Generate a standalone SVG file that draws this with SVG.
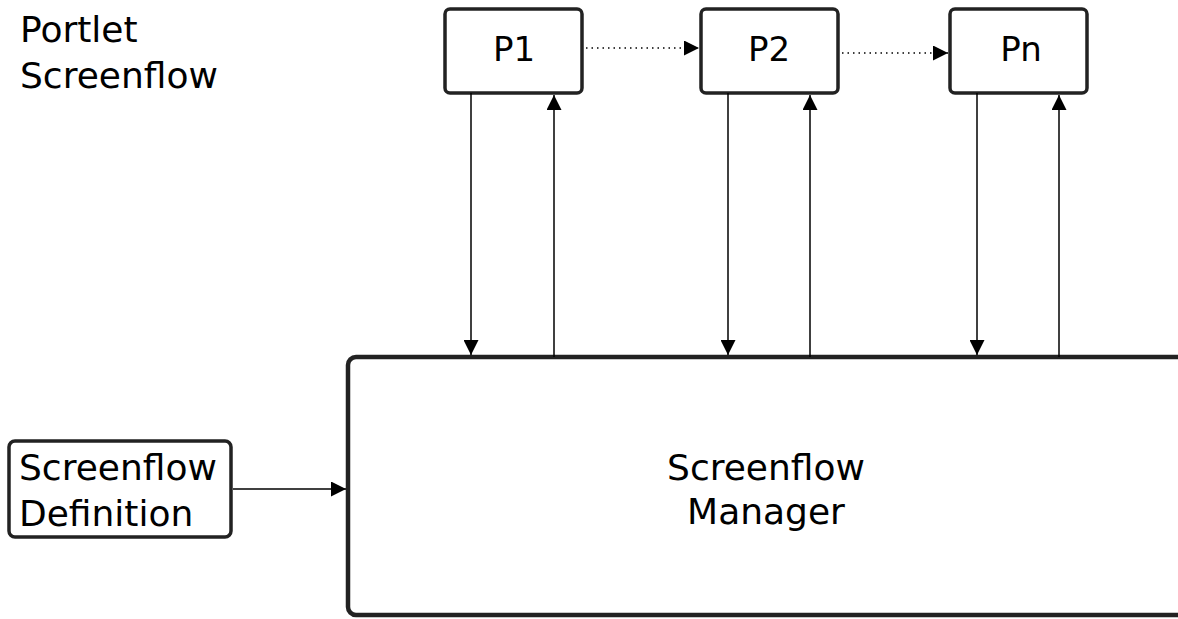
<svg xmlns="http://www.w3.org/2000/svg" width="1178" height="619" viewBox="0 0 1178 619">
  <style>
    .box { fill: #ffffff; stroke: #222222; stroke-width: 3.5; }
    .big { fill: #ffffff; stroke: #222222; stroke-width: 4.5; }
    .lbl { font-family: "DejaVu Sans", sans-serif; font-size: 36px; fill: #000000; }
    .sm { font-size: 34px; }
    .edge { fill: none; stroke: #000000; stroke-width: 1.5; }
    .dot { fill: none; stroke: #000000; stroke-width: 1.5; stroke-dasharray: 1.5 4; }
  </style>
  <defs>
    <marker id="arrow" viewBox="0 0 10 10" refX="10" refY="5" markerWidth="15" markerHeight="15" markerUnits="userSpaceOnUse" orient="auto">
      <path d="M0,0 L10,5 L0,10 z" fill="#000000"/>
    </marker>
  </defs>
  <rect width="1178" height="619" fill="#ffffff"/>

  <text class="lbl" x="20" y="42">Portlet</text>
  <text class="lbl" x="20" y="88">Screenflow</text>

  <g id="manager">
    <rect class="big" x="348" y="357" width="860" height="258" rx="8"/>
    <text class="lbl" x="766" y="480" text-anchor="middle">Screenflow</text>
    <text class="lbl" x="766" y="524" text-anchor="middle">Manager</text>
  </g>

  <g id="definition">
    <rect class="box" x="9" y="441" width="222" height="96" rx="6"/>
    <text class="lbl" x="19" y="480">Screenflow</text>
    <text class="lbl" x="19" y="526">Definition</text>
  </g>

  <g id="p1">
    <rect class="box" x="445" y="9" width="137" height="84" rx="5"/>
    <text class="lbl sm" x="514" y="61" text-anchor="middle">P1</text>
  </g>
  <g id="p2">
    <rect class="box" x="701" y="9" width="137" height="84" rx="5"/>
    <text class="lbl sm" x="769" y="61" text-anchor="middle">P2</text>
  </g>
  <g id="pn">
    <rect class="box" x="950" y="9" width="137" height="84" rx="5" stroke-width="4"/>
    <text class="lbl sm" x="1021" y="61" text-anchor="middle">Pn</text>
  </g>

  <g id="connectors">
    <path class="dot" d="M586,48 H699" marker-end="url(#arrow)"/>
    <path class="dot" d="M842,53 H948" marker-end="url(#arrow)"/>

    <path class="edge" d="M471,93 V355" marker-end="url(#arrow)"/>
    <path class="edge" d="M554,357 V95" marker-end="url(#arrow)"/>
    <path class="edge" d="M728,93 V355" marker-end="url(#arrow)"/>
    <path class="edge" d="M810,357 V95" marker-end="url(#arrow)"/>
    <path class="edge" d="M977,93 V355" marker-end="url(#arrow)"/>
    <path class="edge" d="M1059,357 V95" marker-end="url(#arrow)"/>

    <path class="edge" d="M233,489 H346" marker-end="url(#arrow)"/>
  </g>
</svg>
